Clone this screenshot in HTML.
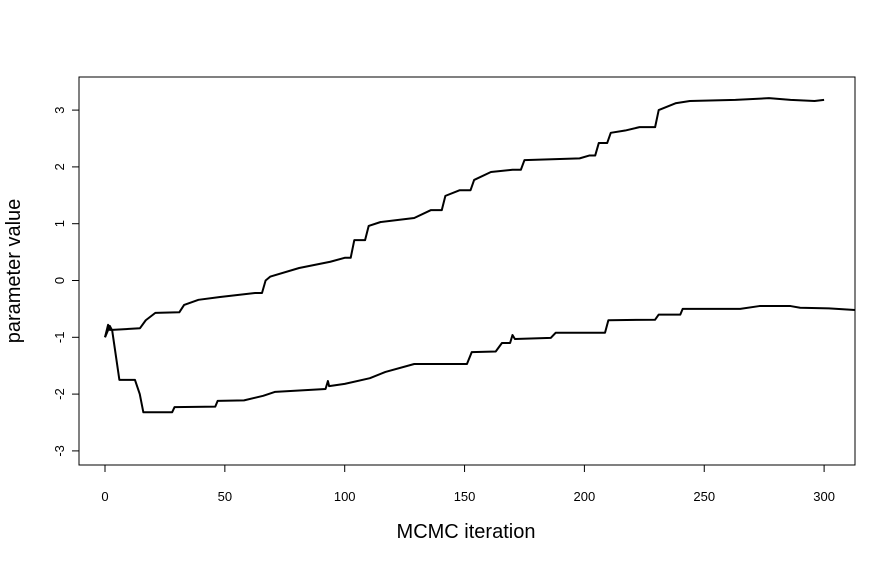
<!DOCTYPE html>
<html><head><meta charset="utf-8"><style>
body{margin:0;background:#fff}
svg text{font-family:"Liberation Sans",Arial,sans-serif;fill:#000}
</style></head><body>
<svg id="chart" width="895" height="563" xmlns="http://www.w3.org/2000/svg">
<rect x="79" y="77" width="776" height="388" fill="none" stroke="#000" stroke-width="1"/>
<g id="xaxis"></g>
<g id="yaxis"></g>
<defs><clipPath id="clip"><rect x="79" y="77" width="776" height="388"/></clipPath></defs>
<g id="series" clip-path="url(#clip)"></g>
<text x="466" y="538" font-size="20" text-anchor="middle">MCMC iteration</text>
<text transform="translate(20,271) rotate(-90)" font-size="20" text-anchor="middle">parameter value</text>
</svg>
<script>
const xTicks=[0,50,100,150,200,250,300];
const yTicks=[-3,-2,-1,0,1,2,3];
const iterA=[0,1.3,2,3,14.6,17,21,31,33,39,48,62.6,67,69,81,94,100,104,110,115,129,136,142,148,154,161,170,175,198,202,206,211,217,223,231,238,244,263,277,286,296,300];
const valA=[-1.0,-0.78,-0.87,-0.87,-0.84,-0.7,-0.57,-0.56,-0.43,-0.34,-0.29,-0.22,0,0.07,0.22,0.33,0.4,0.71,0.96,1.03,1.1,1.24,1.49,1.59,1.77,1.91,1.95,2.12,2.15,2.2,2.42,2.6,2.64,2.7,3.0,3.12,3.16,3.18,3.21,3.18,3.16,3.18];
const iterB=[0,2,3,4,6,12.5,14.5,16,28,29,46,47,58,66,71,92,93,93.5,100,110.5,117,129,151,153,163,165.6,169,170,171,186,188,208.6,210,229.5,231,240,241,265,273,286,290,302,313];
const valB=[-1.0,-0.8,-0.88,-1.17,-1.75,-1.75,-2.0,-2.32,-2.32,-2.23,-2.22,-2.12,-2.11,-2.03,-1.96,-1.91,-1.77,-1.86,-1.82,-1.72,-1.61,-1.47,-1.47,-1.26,-1.25,-1.1,-1.1,-0.96,-1.03,-1.01,-0.92,-0.92,-0.7,-0.69,-0.6,-0.6,-0.5,-0.5,-0.45,-0.45,-0.48,-0.49,-0.52];
const NS="http://www.w3.org/2000/svg";
const sx=v=>105+v*2.397, sy=v=>280.5-v*56.8;
function mk(t,a,p){const e=document.createElementNS(NS,t);for(const k in a)e.setAttribute(k,a[k]);p.appendChild(e);return e;}
const xa=document.getElementById('xaxis'),ya=document.getElementById('yaxis'),sg=document.getElementById('series');
mk('line',{x1:sx(0),x2:sx(300),y1:465,y2:465,stroke:'#000'},xa);
xTicks.forEach(t=>{
 const l=mk('line',{x1:sx(t),x2:sx(t),y1:465,y2:472,stroke:'#000'},xa);
 
 
 const tx=mk('text',{x:sx(t),y:501,'font-size':13,'text-anchor':'middle'},xa);tx.textContent=t;
 
 
});
mk('line',{x1:79,x2:79,y1:sy(-3),y2:sy(3),stroke:'#000'},ya);
yTicks.forEach(t=>{
 const l=mk('line',{x1:72,x2:79,y1:sy(t),y2:sy(t),stroke:'#000'},ya);
 
 
 const tx=mk('text',{transform:`translate(64,${sy(t)}) rotate(-90)`,'font-size':13,'text-anchor':'middle'},ya);tx.textContent=t;
 
 
});
function draw(xs,ys,name){
 let d='M'+sx(xs[0])+','+sy(ys[0]);
 for(let i=1;i<xs.length;i++){
  const big=Math.abs(ys[i]-ys[i-1])>0.15 && (xs[i]-xs[i-1])>3;
  if(big){d+=' L'+sx(xs[i]-1.5)+','+sy(ys[i-1]);}
  d+=' L'+sx(xs[i])+','+sy(ys[i]);
 }
 const p=mk('path',{d:d,fill:'none',stroke:'#000','stroke-width':2,'stroke-linejoin':'round'},sg);
 
 
}
draw(iterA,valA,'trace-line-upper');
draw(iterB,valB,'trace-line-lower');
</script>
</body></html>
